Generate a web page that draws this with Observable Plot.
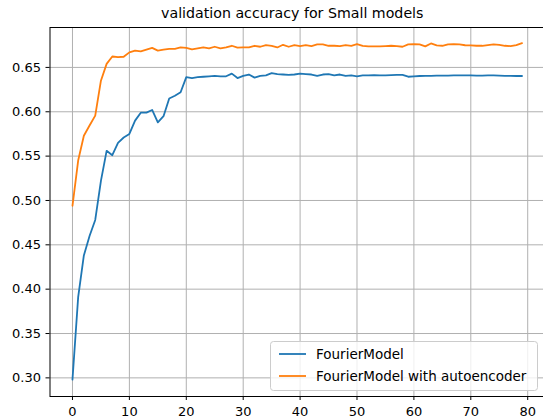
<!DOCTYPE html>
<html><head><meta charset="utf-8">
<script src="https://cdn.jsdelivr.net/npm/d3@7"></script>
<script src="https://cdn.jsdelivr.net/npm/@observablehq/plot@0.6"></script>
<style>body{margin:0;background:#fff} svg{display:block}</style>
</head><body><div id="chart"></div>
<script>
const title = "validation accuracy for Small models";
const seriesNames = ["FourierModel", "FourierModel with autoencoder"];
const colors = ["#1f77b4", "#ff7f0e"];
const epochs = d3.range(80);
const fourier = [
  0.298, 0.391, 0.438, 0.460, 0.478, 0.522, 0.556, 0.551, 0.565, 0.571,
  0.575, 0.590, 0.599, 0.599, 0.602, 0.588, 0.595, 0.615, 0.618, 0.622,
  0.639, 0.638, 0.639, 0.6395, 0.640, 0.6405, 0.640, 0.640, 0.643, 0.638,
  0.6405, 0.642, 0.6385, 0.6405, 0.641, 0.6435, 0.6424, 0.642, 0.6415, 0.642,
  0.643, 0.6425, 0.642, 0.6405, 0.642, 0.6425, 0.641, 0.642, 0.6405, 0.641,
  0.640, 0.641, 0.641, 0.6412, 0.641, 0.641, 0.6412, 0.6415, 0.6415, 0.6395,
  0.640, 0.6403, 0.6405, 0.6405, 0.6407, 0.6408, 0.6408, 0.641, 0.641, 0.641,
  0.641, 0.6408, 0.6408, 0.641, 0.641, 0.6408, 0.6405, 0.6405, 0.6403, 0.6403
];
const fourierAE = [
  0.494, 0.545, 0.573, 0.5845, 0.5957, 0.635, 0.654, 0.6623, 0.6615, 0.662,
  0.667, 0.669, 0.668, 0.670, 0.672, 0.669, 0.670, 0.671, 0.671, 0.6725,
  0.672, 0.6703, 0.6714, 0.6726, 0.6714, 0.6733, 0.6714, 0.6726, 0.6744, 0.6722,
  0.6726, 0.6726, 0.6744, 0.6733, 0.6752, 0.6744, 0.6725, 0.6755, 0.6733, 0.6752,
  0.6741, 0.6752, 0.6741, 0.6759, 0.6759, 0.6744, 0.6744, 0.6741, 0.6752, 0.6744,
  0.6763, 0.6744, 0.6737, 0.6737, 0.6737, 0.674, 0.6744, 0.674, 0.6733, 0.6759,
  0.6763, 0.676, 0.6737, 0.677, 0.6748, 0.6744, 0.676, 0.6763, 0.676, 0.675,
  0.6748, 0.6744, 0.6744, 0.6752, 0.6759, 0.6755, 0.6744, 0.674, 0.6752, 0.6774
];
const xTicks = [0, 10, 20, 30, 40, 50, 60, 70, 80];
const yTicks = [0.30, 0.35, 0.40, 0.45, 0.50, 0.55, 0.60, 0.65];

const data = [
  ...fourier.map((v, i) => ({epoch: epochs[i], acc: v, series: seriesNames[0]})),
  ...fourierAE.map((v, i) => ({epoch: epochs[i], acc: v, series: seriesNames[1]}))
];

const plot = Plot.plot({
  width: 543, height: 419,
  marginLeft: 49.5, marginRight: -1, marginTop: 27, marginBottom: 23,
  style: {fontFamily: "DejaVu Sans", fontSize: "13px", background: "white", color: "black"},
  x: {domain: [-3.95, 82.95], label: null},
  y: {domain: [0.279, 0.695], label: null},
  color: {domain: seriesNames, range: colors},
  marks: [
    Plot.gridX(xTicks, {stroke: "#b0b0b0", strokeOpacity: 1, strokeWidth: 1}),
    Plot.gridY(yTicks, {stroke: "#b0b0b0", strokeOpacity: 1, strokeWidth: 1}),
    Plot.line(data, {x: "epoch", y: "acc", stroke: "series", strokeWidth: 1.8}),
    Plot.frame({stroke: "black", strokeWidth: 1}),
    Plot.axisX(xTicks, {tickSize: 4, tickPadding: 6, label: null, fontSize: 13}),
    Plot.axisY(yTicks, {tickSize: 4, tickPadding: 5, tickFormat: ".2f", label: null, fontSize: 13}),
    Plot.text([title], {frameAnchor: "top", text: d => d, lineAnchor: "bottom", dy: -10, dx: -5, fontSize: 14.2})
  ]
});

const svg = d3.select(plot);
const lg = svg.append("g").attr("text-anchor", "start");
lg.append("rect")
  .attr("x", 270.5).attr("y", 341.5).attr("width", 267).attr("height", 49)
  .attr("rx", 3)
  .style("fill", "white").style("fill-opacity", 0.8)
  .style("stroke", "#cccccc").style("stroke-width", 1);
seriesNames.forEach((name, i) => {
  const y = 354 + i * 22;
  lg.append("line").attr("x1", 279).attr("x2", 306).attr("y1", y).attr("y2", y)
    .style("stroke", colors[i]).style("stroke-width", 1.8);
  lg.append("text").attr("x", 316).attr("y", y).attr("dy", "0.35em")
    .attr("text-anchor", "start")
    .style("font-size", "13.5px").style("fill", "black").text(name);
});

document.getElementById("chart").appendChild(plot);
</script>
</body></html>
